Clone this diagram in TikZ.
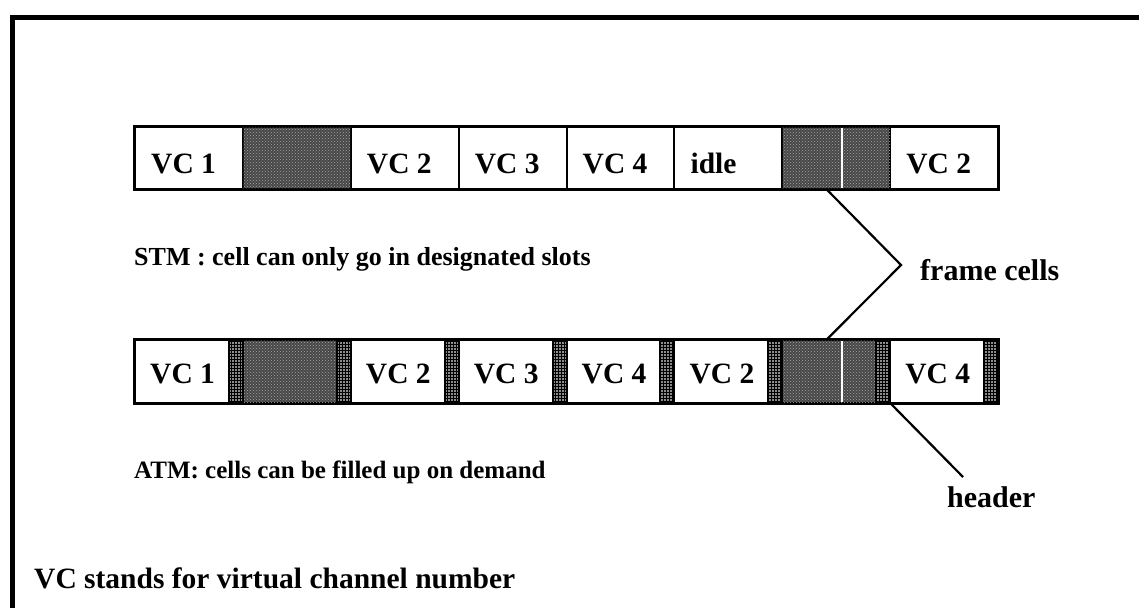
\documentclass[tikz,border=0pt]{standalone}
\usepackage{fontspec}
\setmainfont{Liberation Serif}
\usetikzlibrary{patterns,calc}
\begin{document}
\begin{tikzpicture}[x=1pt,y=-1pt,
  cellbox/.style={draw, line width=2pt, rectangle, inner sep=0pt, anchor=north west, minimum height=62pt},
  graycell/.style={cellbox, fill=black!72, postaction={pattern=crosshatch dots, pattern color=black!35}},
  hdrcell/.style={cellbox, fill=black!45, postaction={pattern=grid}},
  vclab/.style={anchor=base west, inner sep=0pt, font=\bfseries\fontsize{29.5}{29.5}\selectfont},
  txt/.style={anchor=base west, inner sep=0pt, font=\bfseries\fontsize{#1}{#1}\selectfont},
  ptr/.style={line width=2.2pt},
  stripe/.style={white, line width=1.6pt}]
\useasboundingbox (0,0) rectangle (1139,608);
\fill[white] (0,0) rectangle (1139,608);
% frame
\draw[line width=5pt] (12,608) -- (12,17) -- (1139,17);
\def\p{107.875}
% STM row
\foreach \k in {1,3,4,5,6,8}{
  \node[cellbox, minimum width=\p pt] (t\k) at ({134+(\k-1)*\p},126) {};
}
\foreach \k in {2,7}{
  \node[graycell, minimum width=\p pt] (t\k) at ({134+(\k-1)*\p},126) {};
}
\draw[stripe] ($(t7.north west)+(61,2)$) -- ($(t7.south west)+(61,-2)$);
\draw[line width=2.5pt] (t1.north west) rectangle (t8.south east);
\foreach \k/\s in {1/VC 1,3/VC 2,4/VC 3,5/VC 4,6/idle,8/VC 2}{
  \node[vclab] (lt\k) at ({134+(\k-1)*\p+17},173) {\s};
}
% ATM row
\foreach \k in {1,3,4,5,6,8}{
  \node[cellbox, minimum width={(\p-14)*1pt}, minimum height=63pt] (b\k) at ({134+(\k-1)*\p},339) {};
}
\foreach \k in {2,7}{
  \node[graycell, minimum width={(\p-14)*1pt}, minimum height=63pt] (b\k) at ({134+(\k-1)*\p},339) {};
}
\foreach \k in {1,...,8}{
  \node[hdrcell, minimum width=14pt, minimum height=63pt] (h\k) at ({134+\k*\p-14},339) {};
}
\draw[stripe] ($(b7.north west)+(61,2)$) -- ($(b7.south west)+(61,-2)$);
\draw[line width=2.5pt] (b1.north west) rectangle (h8.south east);
\foreach \k/\s in {1/VC 1,3/VC 2,4/VC 3,5/VC 4,6/VC 2,8/VC 4}{
  \node[vclab] (lb\k) at ({134+(\k-1)*\p+16},383) {\s};
}
% texts
\node[txt=26] (stm) at (134,265) {STM : cell can only go in designated slots};
\node[txt=25] (atm) at (134,478) {ATM: cells can be filled up on demand};
\node[txt=29.5] (vcs) at (34,588) {VC stands for virtual channel number};
\node[txt=30] (fc) at (920,280) {frame cells};
\node[txt=30] (hd) at (947,507) {header};
% pointers
\coordinate (apex) at (901,265);
\coordinate (hdend) at (963,477);
\draw[ptr] ([xshift=46pt]t7.south west) -- (apex) -- ([xshift=46pt]b7.north west);
\draw[ptr] (h7.south east) -- (hdend);
\end{tikzpicture}
\end{document}
